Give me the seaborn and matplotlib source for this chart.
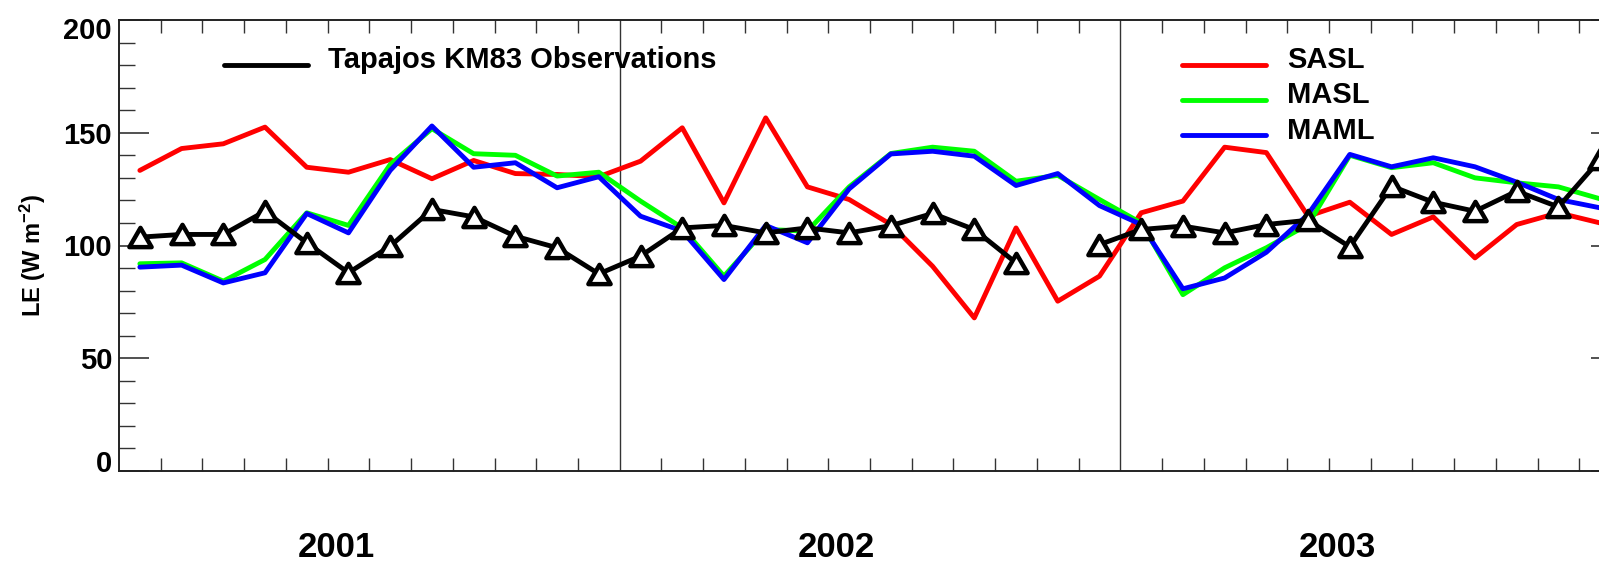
import numpy as np
import pandas as pd
import matplotlib
matplotlib.use("Agg")
import matplotlib.pyplot as plt
import seaborn as sns
from matplotlib import font_manager
from matplotlib.lines import Line2D
from matplotlib.path import Path
from matplotlib.ticker import FixedLocator, MultipleLocator
from matplotlib.transforms import ScaledTranslation

# Monthly latent heat flux, Jan 2001 - Dec 2003 (month index 0..35)
years = ["2001", "2002", "2003"]
year_label_pos = [5.2, 17.2, 29.2]

sasl = [133.3, 143.0, 145.1, 152.5, 134.7, 132.5, 138.1, 129.6, 137.7, 131.9, 131.5, 130.5,
        137.4, 152.2, 118.9, 156.6, 126.0, 120.4, 109.3, 90.8, 67.9, 107.8, 75.3, 86.4,
        114.5, 119.7, 143.6, 141.2, 113.0, 119.2, 104.9, 112.7, 94.5, 109.3, 114.5, 110.0]
masl = [91.9, 92.3, 84.2, 93.8, 114.5, 108.9, 135.9, 151.8, 140.7, 140.0, 130.8, 132.5,
        119.7, 107.8, 86.4, 107.1, 106.4, 126.0, 140.8, 143.6, 141.8, 128.5, 131.1, 120.4,
        110.0, 78.2, 90.1, 99.0, 109.3, 140.0, 134.5, 136.7, 130.0, 127.8, 126.0, 120.7]
maml = [90.4, 91.3, 83.4, 87.9, 114.2, 105.6, 133.3, 153.0, 134.7, 136.7, 125.6, 130.5,
        113.0, 106.4, 84.9, 108.9, 101.2, 125.1, 140.6, 141.8, 139.6, 126.6, 131.9, 117.7,
        109.3, 80.8, 85.6, 97.0, 113.8, 140.4, 134.9, 138.9, 134.9, 128.1, 120.4, 116.7]
obs = [103.7, 104.9, 104.9, 115.2, 101.2, 87.9, 99.7, 116.0, 112.7, 104.1, 99.0, 87.4,
       95.3, 107.8, 108.9, 105.6, 107.8, 105.6, 108.8, 114.2, 107.1, 92.3, np.nan, 100.4,
       107.1, 108.6, 105.6, 109.3, 111.2, 99.4, 126.3, 119.2, 115.2, 124.1, 117.1, 138.2]

model_names = ["SASL", "MASL", "MAML"]
model_colors = ["#ff0000", "#00ff00", "#0000ff"]
obs_name = "Tapajos KM83 Observations"

month_center = np.arange(36) + 0.5
LW = 3.5

sns.set_theme(style="ticks")
plt.rcParams["font.family"] = ["Liberation Sans", "DejaVu Sans"]
plt.rcParams["font.weight"] = "bold"
plt.rcParams["axes.labelweight"] = "bold"
plt.rcParams["mathtext.default"] = "regular"
for key in ("text.color", "axes.labelcolor", "xtick.color", "ytick.color"):
    plt.rcParams[key] = "black"

installed = {f.name for f in font_manager.fontManager.ttflist}
if "Liberation Sans Narrow" in installed:
    ylabel_font = {"family": ["Liberation Sans Narrow", "DejaVu Sans"], "size": 20.5}
else:
    ylabel_font = {"family": ["Liberation Sans", "DejaVu Sans"], "size": 17}

fig = plt.figure(figsize=(15.99, 5.67), dpi=100)
# the plot frame runs past the right edge of the canvas
ax = fig.add_axes([119 / 1599, 96 / 567, 1502 / 1599, 451 / 567])

models = pd.DataFrame({"month": np.tile(month_center, 3),
                       "LE": np.concatenate([sasl, masl, maml]),
                       "model": np.repeat(model_names, 36)})
for name, col in zip(model_names, model_colors):
    sns.lineplot(data=models[models["model"] == name], x="month", y="LE",
                 color=col, linewidth=LW, ax=ax, legend=False, zorder=3)

obs_df = pd.DataFrame({"month": month_center, "LE": obs})
obs_df["segment"] = obs_df["LE"].isna().cumsum()
obs_df = obs_df.dropna()
tri = Path([(-1, -0.866), (1, -0.866), (0, 0.866), (-1, -0.866)], closed=True)
sns.lineplot(data=obs_df, x="month", y="LE", units="segment", estimator=None,
             color="black", linewidth=LW, marker=tri, markersize=16,
             markerfacecolor="white", markeredgecolor="black", markeredgewidth=3.2,
             ax=ax, legend=False, zorder=4, clip_on=False)

ax.set_xlim(0, 36)
ax.set_ylim(0, 200)

for x in (12, 24):
    ax.axvline(x, color="#333333", lw=1.0, zorder=1)

# x axis: year names as labels, months as minor ticks
ax.xaxis.set_major_locator(FixedLocator(year_label_pos))
ax.set_xticklabels(years, fontsize=25, fontweight="bold")
ax.xaxis.set_minor_locator(FixedLocator([m for m in range(1, 36) if m % 12 != 0]))
ax.tick_params(axis="x", which="major", length=0, pad=43)
ax.tick_params(axis="x", which="minor", direction="in", length=9.4, width=1.0,
               top=True, bottom=True, color="#333333")

# y axis
ax.yaxis.set_major_locator(FixedLocator([0, 50, 100, 150, 200]))
ax.yaxis.set_minor_locator(MultipleLocator(10))
ax.set_yticklabels(["0", "50", "100", "150", "200"], fontsize=21, fontweight="bold")
ax.tick_params(axis="y", which="major", direction="in", length=21.6, width=1.2,
               left=True, right=True, pad=5, color="#333333")
ax.tick_params(axis="y", which="minor", direction="in", length=11.5, width=1.0,
               left=True, right=True, color="#333333")
yticks = ax.yaxis.get_major_ticks()
yticks[0].label1.set_transform(yticks[0].label1.get_transform()
                               + ScaledTranslation(0, 10 / 100, fig.dpi_scale_trans))
yticks[-1].label1.set_transform(yticks[-1].label1.get_transform()
                                + ScaledTranslation(0, -8 / 100, fig.dpi_scale_trans))

ax.set_xlabel("")
ax.set_ylabel("LE (W m$^{-2}$)", fontweight="bold", **ylabel_font)
ax.yaxis.set_label_coords(-0.047, 0.477)

for s in ax.spines.values():
    s.set_linewidth(1.4)
    s.set_color("#222222")

# legends: handle line sits a little below the middle of the label
def lower_handles(leg, pts=5.0):
    for ln in leg.get_lines():
        ln.set_ydata(np.asarray(ln.get_ydata()) - pts)

obs_handle = [Line2D([], [], color="black", lw=LW)]
leg1 = ax.legend(obs_handle, [obs_name], loc="upper left",
                 bbox_to_anchor=(224 / 1599, 1 - 46 / 567), bbox_transform=fig.transFigure,
                 frameon=False, fontsize=21, handlelength=2.88, handletextpad=0.68,
                 borderpad=0, borderaxespad=0)
for t in leg1.get_texts():
    t.set_fontweight("bold")
lower_handles(leg1)
ax.add_artist(leg1)

model_handles = [Line2D([], [], color=c, lw=LW) for c in model_colors]
leg2 = ax.legend(model_handles, model_names, loc="upper left",
                 bbox_to_anchor=(1182 / 1599, 1 - 46 / 567), bbox_transform=fig.transFigure,
                 frameon=False, fontsize=21, handlelength=2.88, handletextpad=0.72,
                 labelspacing=0.25, borderpad=0, borderaxespad=0)
for t in leg2.get_texts():
    t.set_fontweight("bold")
lower_handles(leg2)

fig.savefig("out.png", dpi=100)
